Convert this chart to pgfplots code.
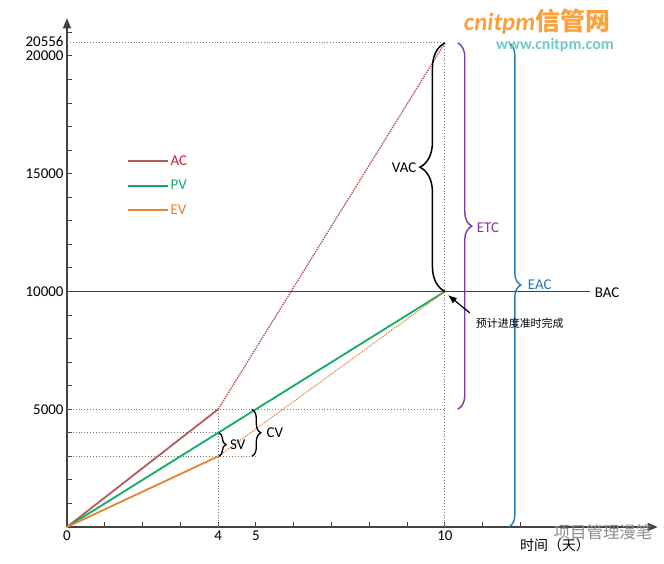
\documentclass[border=0pt]{standalone}
\usepackage{pgfplots}
\pgfplotsset{compat=1.18}
\usepackage{fontspec}
\setmainfont{Carlito}
\newfontfamily\cjk{Noto Sans CJK SC}
\usetikzlibrary{decorations.pathreplacing,arrows.meta}
\definecolor{ACline}{RGB}{180,90,95}
\definecolor{ACtext}{RGB}{195,40,60}
\definecolor{PVline}{RGB}{20,170,100}
\definecolor{EVline}{RGB}{230,130,50}
\definecolor{ETCcol}{RGB}{125,55,170}
\definecolor{EACcol}{RGB}{35,120,180}
\definecolor{axcol}{RGB}{65,65,65}
\definecolor{guide}{RGB}{120,120,120}
\definecolor{wmor}{RGB}{250,160,60}
\definecolor{wmteal}{RGB}{110,200,200}
\begin{document}
\begin{tikzpicture}
\begin{axis}[
  scale only axis, width=590.7bp, height=508.7bp,
  xmin=0, xmax=15.63, ymin=0, ymax=21600,
  axis lines=left,
  axis line style={line width=1.2bp, draw=axcol, -{Triangle[length=10bp,width=8bp]}},
  xtick={0,...,12}, xticklabels={0,,,,4,5,,,,,10,,},
  ytick={0,1000,...,21000}, yticklabels={,,,,,5000,,,,,10000,,,,,15000,,,,,20000,},
  scaled y ticks=false,
  extra y ticks={20556}, extra y tick labels={20556}, extra y tick style={major tick length=0pt, yticklabel style={yshift=1.5bp}},
  tick align=inside, major tick length=5bp,
  tick style={line width=1bp, color=axcol},
  ticklabel style={font=\fontsize{15}{15}\selectfont, text=black},
  /pgf/number format/assume math mode=true,
  clip=false,
  legend style={at={(axis cs:1.5,15950)}, anchor=north west, draw=none, fill=none,
    font=\fontsize{15}{15}\selectfont, row sep=9.5bp},
  legend cell align=left,
  legend image code/.code={\draw[#1, line width=1.8bp, solid] (0bp,0bp) -- (40bp,0bp);},
]
% guide lines
\addplot[guide, dotted, line width=0.9bp, forget plot] coordinates {(0,20556) (10,20556)};
\addplot[guide, dotted, line width=0.9bp, forget plot] coordinates {(10,0) (10,20556)};
\addplot[guide, dotted, line width=0.9bp, forget plot] coordinates {(0,5000) (10,5000)};
\addplot[guide, dotted, line width=0.9bp, forget plot] coordinates {(4,0) (4,5000)};
\addplot[guide, dotted, line width=0.9bp, forget plot] coordinates {(0,4000) (4,4000)};
\addplot[guide, dotted, line width=0.9bp, forget plot] coordinates {(0,3000) (5,3000)};
% BAC line
\addplot[axcol, line width=1.4bp, forget plot] coordinates {(0,10000) (13.84,10000)};
% main series
\addplot[ACline, line width=1.8bp] coordinates {(0,0) (4,5000)};
\addlegendentry{\textcolor{ACtext}{AC}}
\addplot[PVline, line width=1.8bp] coordinates {(0,0) (10,10000)};
\addlegendentry{\textcolor{PVline}{PV}}
\addplot[EVline, line width=1.8bp] coordinates {(0,0) (4,3000)};
\addlegendentry{\textcolor{EVline}{EV}}
\addplot[ACline, densely dotted, line width=1.4bp, forget plot] coordinates {(4,5000) (10,20556)};
\addplot[EVline, densely dotted, line width=1.1bp, forget plot] coordinates {(4,3000) (10,10000)};
% braces
\draw[decorate, decoration={brace, amplitude=25bp}, line width=1.5bp, black] (axis cs:10,10000) -- (axis cs:10,20556);
\node[font=\fontsize{15}{15}\selectfont] at (axis cs:8.92,15244) {VAC};
\draw[decorate, decoration={brace, amplitude=14bp}, line width=1.4bp, ETCcol] (axis cs:10.34,20556) -- (axis cs:10.34,5000);
\node[font=\fontsize{15}{15}\selectfont, text=ETCcol] at (axis cs:11.14,12696) {ETC};
\draw[decorate, decoration={brace, amplitude=12bp}, line width=1.4bp, EACcol] (axis cs:11.69,20556) -- (axis cs:11.69,0);
\node[font=\fontsize{15}{15}\selectfont, text=EACcol] at (axis cs:12.51,10276) {EAC};
\draw[decorate, decoration={brace, amplitude=7bp}, line width=1.3bp, black] (axis cs:4.02,4000) -- (axis cs:4.02,3000);
\node[font=\fontsize{15}{15}\selectfont] at (axis cs:4.52,3482) {SV};
\draw[decorate, decoration={brace, amplitude=9bp}, line width=1.3bp, black] (axis cs:4.89,5000) -- (axis cs:4.89,3000);
\node[font=\fontsize{15}{15}\selectfont] at (axis cs:5.50,3992) {CV};
\node[font=\fontsize{15}{15}\selectfont] at (axis cs:14.29,9936) {BAC};
% annotation
\draw[-{Latex[length=9bp,width=7bp]}, line width=1.2bp] (axis cs:10.66,9087) -- (axis cs:10.08,9851);
\node[font=\cjk\fontsize{11}{11}\selectfont] at (axis cs:11.98,8662) {预计进度准时完成};
\end{axis}
% axis label and watermarks
\node[font=\cjk\fontsize{14}{14}\selectfont] at (488bp,-18bp) {时间（天）};
\node[font=\cjk\fontsize{16.5}{16.5}\selectfont, text=black!45] at (536bp,-5bp) {项目管理漫笔};
\node[font=\bfseries\itshape\fontsize{25}{25}\selectfont, text=wmor, inner sep=0pt] at (470bp,505bp) {cnitpm\cjk 信管网};
\node[font=\bfseries\fontsize{16}{16}\selectfont, text=wmteal, inner sep=0pt] at (488bp,482bp) {www.cnitpm.com};
\pgfresetboundingbox
\path[use as bounding box] (-67bp,-37bp) rectangle (597bp,527bp);
\end{tikzpicture}
\end{document}
